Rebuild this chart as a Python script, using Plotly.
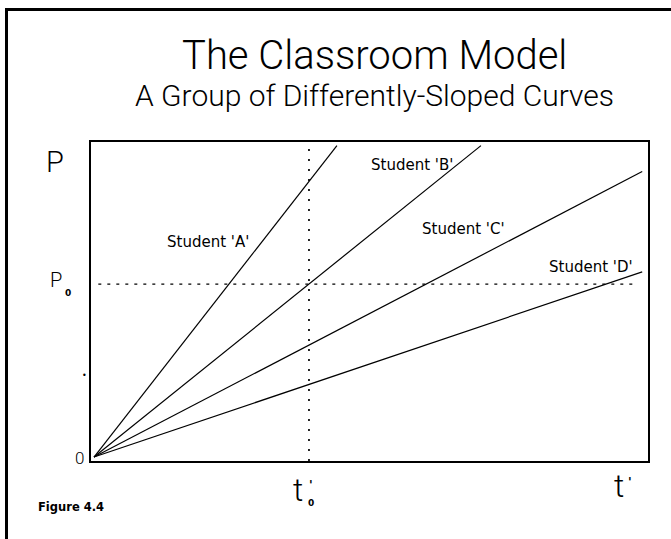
import plotly.graph_objects as go

# ---------------- data ----------------
students = ["Student 'A'", "Student 'B'", "Student 'C'", "Student 'D'"]
end_t = [1.13, 1.80, 2.55, 2.55]      # t at the end of each student's line
end_p = [1.80, 1.80, 1.65, 1.07]      # P at the end of each student's line
origin_t = 0.0
origin_p = 0.0
t0 = 1.0                               # t0*
p0 = 1.0                               # P0
ref_t_span = [0.02, 2.51]              # extent of the P0 dashed line

x_range = [-0.014, 2.577]
y_range = [-0.023, 1.821]

title_text = "The Classroom Model"
subtitle_text = "A Group of Differently-Sloped Curves"
caption_text = "Figure 4.4"

W, H = 671, 539
L, R, T, B = 91, 23, 142, 78
PW, PH = W - L - R, H - T - B


def px(x):  # page pixel -> paper x
    return (x - L) / PW


def py(y):  # page pixel -> paper y
    return (H - B - y) / PH


THIN = "Roboto"
LAB = "DejaVu Sans"
INK = "#000"

fig = go.Figure()

# reference lines
fig.add_trace(go.Scatter(x=ref_t_span, y=[p0, p0], mode="lines",
                         line=dict(color="black", width=1.3, dash="3px,6px"),
                         hoverinfo="skip", showlegend=False))
fig.add_trace(go.Scatter(x=[t0, t0], y=y_range, mode="lines",
                         line=dict(color="black", width=1.7, dash="2px,8px"),
                         hoverinfo="skip", showlegend=False))

# student lines
for name, et, ep in zip(students, end_t, end_p):
    fig.add_trace(go.Scatter(x=[origin_t, et], y=[origin_p, ep], mode="lines",
                             name=name, line=dict(color="black", width=1.2),
                             showlegend=False))

ann = []


def txt(x, y, text, family, size, weight="normal"):
    ann.append(dict(x=px(x), y=py(y), xref="paper", yref="paper", text=text,
                    xanchor="center", yanchor="middle", showarrow=False,
                    font=dict(family=family, size=size, color=INK, weight=weight)))


# student labels (pixel centres)
label_pos = [(208, 242), (412, 165), (463, 229), (591, 267)]
for name, (lx, ly) in zip(students, label_pos):
    txt(lx, ly, name, LAB, 15)

# titles
txt(374, 56, title_text, THIN, 40, 300)
txt(374, 96, subtitle_text, THIN, 30, 300)

# axis labels
txt(55, 162, "P", THIN, 29, 300)
txt(56, 280, "P", THIN, 20, 300)
txt(67.5, 293, "0", LAB, 9, "bold")
txt(79, 458, "0", THIN, 17, 300)
txt(84, 375, "•", LAB, 8)

txt(298, 490, "t", THIN, 32, 300)
txt(311, 485, "'", LAB, 12, "bold")
txt(311, 503, "0", LAB, 9, "bold")
txt(619, 486, "t", THIN, 32, 300)
txt(630, 482, "'", LAB, 12, "bold")

txt(71, 507, caption_text, LAB, 11.5, "bold")

# page frame (left + top heavy rules)
shapes = [
    dict(type="line", xref="paper", yref="paper", x0=px(6.5), x1=px(6.5), y0=py(9), y1=py(545),
         line=dict(color="black", width=3)),
    dict(type="line", xref="paper", yref="paper", x0=px(5), x1=px(680), y0=py(9.5), y1=py(9.5),
         line=dict(color="black", width=3)),
]

fig.update_layout(
    width=W, height=H,
    margin=dict(l=L, r=R, t=T, b=B),
    paper_bgcolor="white", plot_bgcolor="white",
    annotations=ann, shapes=shapes,
    xaxis=dict(range=x_range, showgrid=False, zeroline=False, showticklabels=False,
               ticks="", showline=True, linecolor="black", linewidth=1.5, mirror=True),
    yaxis=dict(range=y_range, showgrid=False, zeroline=False, showticklabels=False,
               ticks="", showline=True, linecolor="black", linewidth=1.5, mirror=True),
)

fig.write_html("out.html", config={"displayModeBar": False},
               post_script="document.body.style.margin='0';")
